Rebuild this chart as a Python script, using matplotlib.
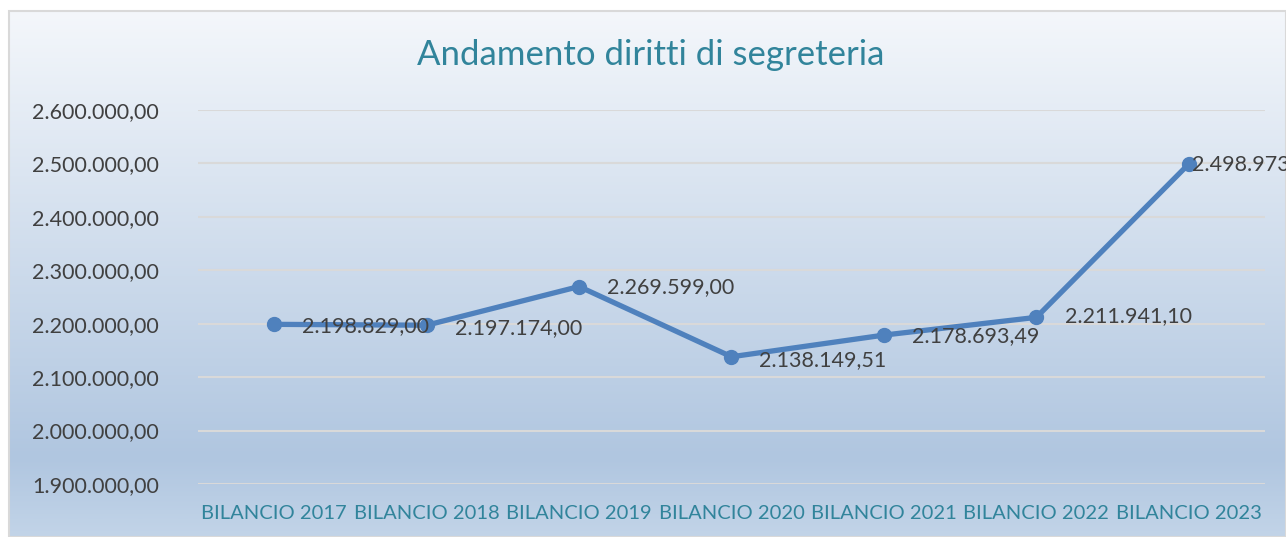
import numpy as np
import matplotlib.pyplot as plt
from matplotlib.patches import Rectangle

plt.rcParams['font.family'] = ['Lato', 'DejaVu Sans']

categories = ['BILANCIO 2017', 'BILANCIO 2018', 'BILANCIO 2019', 'BILANCIO 2020',
              'BILANCIO 2021', 'BILANCIO 2022', 'BILANCIO 2023']
values = [2198829.00, 2197174.00, 2269599.00, 2138149.51, 2178693.49, 2211941.10, 2498973.00]
labels = ['2.198.829,00', '2.197.174,00', '2.269.599,00', '2.138.149,51',
          '2.178.693,49', '2.211.941,10', '2.498.973,00']
yticks = np.arange(1900000, 2600001, 100000)


def fmt_it(v):
    s = f"{v:,.2f}"
    return s.replace(',', 'X').replace('.', ',').replace('X', '.')


W, H = 1286, 537
fig = plt.figure(figsize=(W / 100, H / 100), dpi=100)
fig.patch.set_facecolor('white')

# gradient background of the chart area
bg = fig.add_axes([9 / W, 0, 1 - 9 / W, 1 - 11 / H])
grad = np.linspace(0, 1, 256).reshape(-1, 1)
top = np.array([0xf4, 0xf7, 0xfb]) / 255
mid = np.array([0xb0, 0xc6, 0xe0]) / 255
bot = np.array([0xc2, 0xd4, 0xe8]) / 255
cols = np.where(grad[..., None] < 0.85,
                top + (mid - top) * (grad[..., None] / 0.85),
                mid + (bot - mid) * ((grad[..., None] - 0.85) / 0.15))
bg.imshow(cols, aspect='auto', extent=[0, 1, 0, 1], origin='upper')
bg.set_axis_off()
bg.add_patch(Rectangle((0, 0), 1, 1, transform=bg.transAxes, fill=False,
                       edgecolor='#d9d9d9', lw=1.5, clip_on=False))

ax = fig.add_axes([198 / W, (H - 484) / H, (1265 - 198) / W, (484 - 110) / H])
ax.patch.set_alpha(0)
x = np.arange(len(categories))
ax.plot(x, values, color='#4f81bd', lw=3.8, marker='o', ms=10, zorder=3)
ax.set_xlim(-0.5, len(categories) - 0.5)
ax.set_ylim(1900000, 2600000)
ax.set_yticks(yticks)
ax.set_yticklabels([fmt_it(v) for v in yticks], fontsize=15.5, color='#404040')
ax.set_xticks(x)
ax.set_xticklabels(categories, fontsize=14.5, color='#31849b')
ax.tick_params(length=0)
ax.tick_params(axis='y', pad=28)
ax.tick_params(axis='x', pad=15)
ax.grid(axis='y', color='#d9d9d9', lw=1.5)
for s in ax.spines.values():
    s.set_visible(False)

offsets = [(28, -2), (28, -3), (28, -1), (28, -3), (28, -1), (29, 1), (3, 0)]
for xi, v, lab, (dx, dy) in zip(x, values, labels, offsets):
    ax.annotate(lab, (xi, v), xytext=(dx * 0.72, dy * 0.72), textcoords='offset points',
                ha='left', va='center', fontsize=15.5, color='#404040', zorder=4)

fig.text(651 / W, 1 - 55 / H, 'Andamento diritti di segreteria', ha='center', va='center',
         fontsize=25, color='#31849b')

fig.savefig('out.png', dpi=100)
